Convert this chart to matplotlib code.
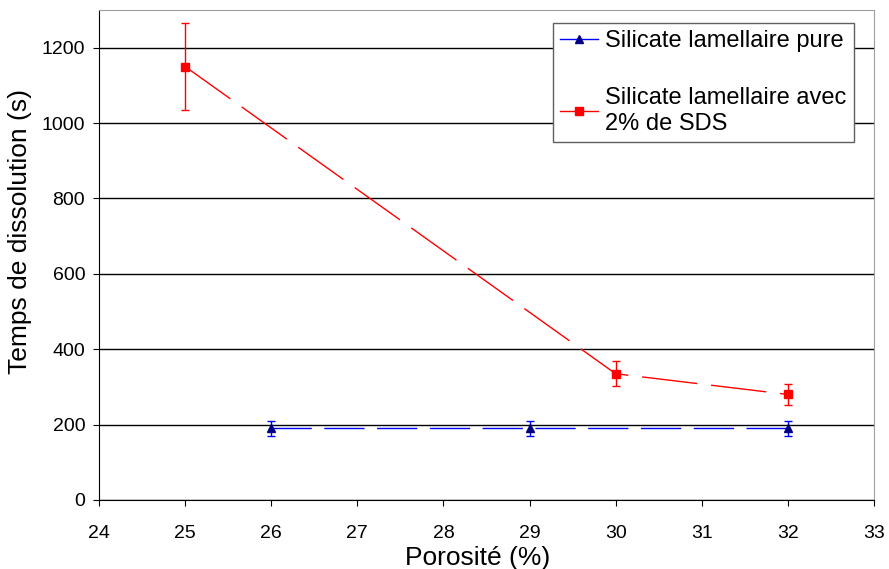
import matplotlib
matplotlib.use('Agg')
import matplotlib.pyplot as plt

plt.rcParams['font.family'] = ['Liberation Sans', 'DejaVu Sans']

# data
pure_x = [26, 29, 32]
pure_y = [190, 190, 190]
pure_err = [20, 20, 20]

sds_x = [25, 30, 32]
sds_y = [1150, 335, 280]
sds_err = [115, 33, 28]

x_ticks = list(range(24, 34))
y_ticks = list(range(0, 1400, 200))

fig = plt.figure(figsize=(8.89, 5.69), dpi=100)
ax = fig.add_axes([0.1114, 0.1213, 0.8716, 0.8611])

c1 = ax.errorbar(pure_x, pure_y, yerr=pure_err, color='#0000FF', ecolor='#0000FF',
                 marker='^', markersize=6, markerfacecolor='#000080', markeredgecolor='#000080',
                 linewidth=1, dashes=(29, 9), capsize=3, elinewidth=1,
                 label='Silicate lamellaire pure', zorder=3)
c2 = ax.errorbar(sds_x, sds_y, yerr=sds_err, color='#FF0000', ecolor='#FF0000',
                 marker='s', markersize=6, markerfacecolor='#FF0000', markeredgecolor='#FF0000',
                 linewidth=1, dashes=(40, 10), capsize=3, elinewidth=1,
                 label='Silicate lamellaire avec\n2% de SDS', zorder=3)

ax.set_xlim(24, 33)
ax.set_ylim(0, 1300)
ax.set_xticks(x_ticks)
ax.set_yticks(y_ticks)
ax.yaxis.grid(True, color='black', linewidth=1)
ax.set_axisbelow(True)

ax.spines['top'].set_color('#a0a0a0')
ax.spines['right'].set_color('#a0a0a0')
ax.tick_params(axis='both', direction='out', length=4, labelsize=14, colors='black')
ax.tick_params(axis='x', pad=14)
ax.tick_params(axis='y', pad=6)

ax.set_xlabel('Porosité (%)', fontsize=19)
ax.set_ylabel('Temps de dissolution (s)', fontsize=19)
ax.xaxis.set_label_coords(0.489, -0.094)
ax.yaxis.set_label_coords(-0.086, 0.547)

leg = ax.legend(handles=[c1[0], c2[0]], labels=[c1.get_label(), c2.get_label()],
                loc='upper right', bbox_to_anchor=(0.974, 0.9735), borderaxespad=0,
                fontsize=17, frameon=True, fancybox=False, edgecolor='#606060',
                framealpha=1, labelspacing=1.5, handlelength=1.6, handletextpad=0.3,
                borderpad=0.3)
leg.get_frame().set_linewidth(1)
for h in leg.legend_handles:
    h.set_linestyle('-')

fig.savefig('out.png', dpi=100)
